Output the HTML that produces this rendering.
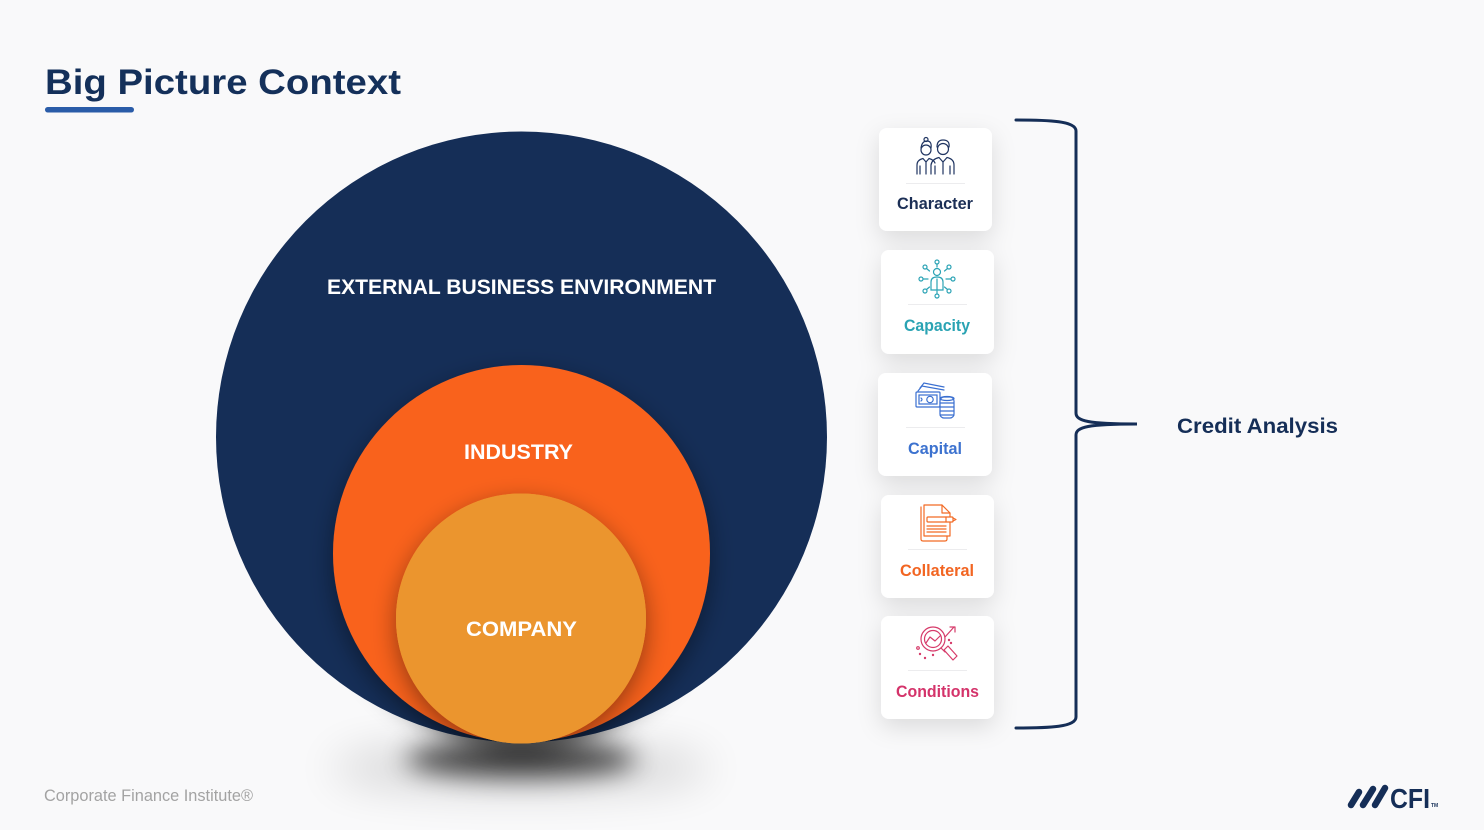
<!DOCTYPE html>
<html><head><meta charset="utf-8">
<style>
html,body{margin:0;padding:0;background:#f9f9fa;}
svg{display:block;}
text{font-family:"Liberation Sans",sans-serif;font-weight:bold;}
</style></head>
<body>
<svg width="1484" height="830" viewBox="0 0 1484 830" xmlns="http://www.w3.org/2000/svg">
<defs>
  <filter id="blurBig" x="-80%" y="-150%" width="260%" height="400%"><feGaussianBlur stdDeviation="13"/></filter>
  <filter id="blurWide" x="-80%" y="-150%" width="260%" height="400%"><feGaussianBlur stdDeviation="22"/></filter>
  <filter id="ds" x="-30%" y="-30%" width="160%" height="170%"><feDropShadow dx="0" dy="8" stdDeviation="12" flood-color="#000" flood-opacity="0.4"/></filter>
  <filter id="cardS" x="-40%" y="-40%" width="180%" height="190%"><feDropShadow dx="0" dy="8" stdDeviation="12" flood-color="#000" flood-opacity="0.12"/></filter>
</defs>
<rect width="1484" height="830" fill="#f9f9fa"/>

<!-- Title -->
<text x="45" y="94" font-size="35" fill="#14305a" textLength="356" lengthAdjust="spacingAndGlyphs">Big Picture Context</text>
<rect x="45" y="107" width="89" height="5.5" rx="2.75" fill="#2a5ca8"/>

<!-- big shadow -->
<ellipse cx="521" cy="768" rx="190" ry="22" fill="#000" opacity="0.16" filter="url(#blurWide)"/>
<ellipse cx="521" cy="759" rx="115" ry="18" fill="#000" opacity="0.72" filter="url(#blurBig)"/>

<!-- circles -->
<circle cx="521.5" cy="437" r="305.5" fill="#152e57"/>
<circle cx="521.5" cy="553.5" r="188.5" fill="#f9621e" filter="url(#ds)"/>
<circle cx="521" cy="618.5" r="125" fill="#eb952e" filter="url(#ds)"/>
<circle cx="521" cy="618.5" r="125" fill="#eb952e"/>

<text x="327" y="294" font-size="21" fill="#fff" textLength="389" lengthAdjust="spacingAndGlyphs">EXTERNAL BUSINESS ENVIRONMENT</text>
<text x="464" y="459" font-size="21" fill="#fff" textLength="109" lengthAdjust="spacingAndGlyphs">INDUSTRY</text>
<text x="466" y="636" font-size="21" fill="#fff" textLength="111" lengthAdjust="spacingAndGlyphs">COMPANY</text>

<!-- cards -->
<g filter="url(#cardS)">
  <rect x="879" y="128" width="113" height="103" rx="8" fill="#fff"/>
  <rect x="881" y="250" width="113" height="104" rx="8" fill="#fff"/>
  <rect x="878" y="373" width="114" height="103" rx="8" fill="#fff"/>
  <rect x="881" y="495" width="113" height="103" rx="8" fill="#fff"/>
  <rect x="881" y="616" width="113" height="103" rx="8" fill="#fff"/>
</g>
<g stroke="#ececee" stroke-width="1">
  <line x1="906" y1="183.5" x2="965" y2="183.5"/>
  <line x1="908" y1="304.5" x2="967" y2="304.5"/>
  <line x1="906" y1="427.5" x2="965" y2="427.5"/>
  <line x1="908" y1="549.5" x2="967" y2="549.5"/>
  <line x1="908" y1="670.5" x2="967" y2="670.5"/>
</g>
<text x="897" y="209" font-size="16.5" fill="#1c2f56" textLength="76" lengthAdjust="spacingAndGlyphs">Character</text>
<text x="904" y="331" font-size="16.5" fill="#2aa3b3" textLength="66" lengthAdjust="spacingAndGlyphs">Capacity</text>
<text x="908" y="454" font-size="16.5" fill="#3c72cf" textLength="54" lengthAdjust="spacingAndGlyphs">Capital</text>
<text x="900" y="576" font-size="16.5" fill="#f26522" textLength="74" lengthAdjust="spacingAndGlyphs">Collateral</text>
<text x="896" y="697" font-size="16.5" fill="#d4336a" textLength="83" lengthAdjust="spacingAndGlyphs">Conditions</text>

<!-- Character icon -->
<g fill="none" stroke="#1f3461" stroke-width="1.2" stroke-linecap="round">
  <circle cx="926" cy="150" r="5"/>
  <path d="M921,148 Q922,141 927,141 Q932,141 931,148"/>
  <circle cx="926" cy="139.5" r="2"/>
  <path d="M917,174 V165 Q917,160 923,158.5 L926,162 L929,158.5 Q934,160 935,163"/>
  <line x1="920" y1="166" x2="920" y2="174"/><line x1="926" y1="162" x2="926" y2="174"/>
  <circle cx="943" cy="149" r="5.5"/>
  <path d="M937,147 Q937,140 943,140 Q950,140 949,147"/>
  <path d="M931,174 V165 Q932,159 939,157.5 L943,162 L947,157.5 Q954,159 954,165 V174"/>
  <line x1="935" y1="166" x2="935" y2="174"/><line x1="943" y1="162" x2="943" y2="174"/><line x1="950" y1="166" x2="950" y2="174"/>
</g>

<!-- Capacity icon -->
<g fill="none" stroke="#2ba3b5" stroke-width="1.2" stroke-linecap="round">
  <circle cx="937" cy="272" r="3.5"/>
  <path d="M931,290 V282 Q931,277 937,277 Q943,277 943,282 V290 Z"/>
  <line x1="937" y1="279" x2="937" y2="290"/>
  <circle cx="937" cy="262" r="2"/><line x1="937" y1="264" x2="937" y2="267"/>
  <circle cx="937" cy="296" r="2"/><line x1="937" y1="291" x2="937" y2="294"/>
  <circle cx="921" cy="279" r="2"/><line x1="923" y1="279" x2="928" y2="279"/>
  <circle cx="953" cy="279" r="2"/><line x1="946" y1="279" x2="951" y2="279"/>
  <circle cx="925" cy="267" r="2"/><line x1="926.5" y1="268.5" x2="929.5" y2="271"/>
  <circle cx="949" cy="267" r="2"/><line x1="947.5" y1="268.5" x2="944.5" y2="271"/>
  <circle cx="925" cy="291" r="2"/><line x1="926.5" y1="289.5" x2="929.5" y2="287"/>
  <circle cx="949" cy="291" r="2"/><line x1="947.5" y1="289.5" x2="944.5" y2="287"/>
</g>

<!-- Capital icon -->
<g fill="none" stroke="#3a6fd0" stroke-width="1.2" stroke-linecap="round">
  <path d="M920,388 L924,383 L944,387"/>
  <path d="M918,391 L922,386 L944,390"/>
  <rect x="916" y="392" width="24" height="15" rx="1"/>
  <rect x="919" y="395" width="18" height="9"/>
  <circle cx="930" cy="399.5" r="3.2"/>
  <path d="M921,398 Q923,399.5 921,401"/>
  <rect x="940" y="397" width="14" height="21" rx="4" fill="#fff"/>
  <ellipse cx="947" cy="398.5" rx="7" ry="2"/>
  <line x1="940" y1="403" x2="954" y2="403"/>
  <line x1="940" y1="407" x2="954" y2="407"/>
  <line x1="940" y1="411" x2="954" y2="411"/>
  <line x1="940" y1="415" x2="954" y2="415"/>
</g>

<!-- Collateral icon -->
<g fill="none" stroke="#f26a25" stroke-width="1.2" stroke-linecap="round" stroke-linejoin="round">
  <path d="M921,507 V539 Q921,541 923,541 H945 Q947,541 947,539 V536"/>
  <path d="M924,505 H942 L950,513 V536 H924 Z" fill="#fff"/>
  <path d="M942,505 V513 H950"/>
  <rect x="927" y="517" width="26" height="5" rx="1" fill="#fff"/>
  <line x1="946" y1="517" x2="946" y2="522"/>
  <path d="M953,518 L956,519.5 L953,521"/>
  <line x1="927" y1="526" x2="946" y2="526"/>
  <line x1="927" y1="529" x2="946" y2="529"/>
  <line x1="927" y1="532" x2="946" y2="532"/>
</g>

<!-- Conditions icon -->
<g fill="none" stroke="#d63b6a" stroke-width="1.2" stroke-linecap="round" stroke-linejoin="round">
  <circle cx="933" cy="639" r="12"/>
  <circle cx="933" cy="639" r="8.5"/>
  <path d="M926,643 L930,637 L935,641 L940,636"/>
  <path d="M941,648 L945,652"/>
  <path d="M944,650 L948,646 L957,656 L953,660 Z"/>
  <path d="M945,637 L954,627"/>
  <path d="M950,627 H955 V632"/>
  <circle cx="949" cy="640" r="0.6" fill="#d63b6a"/>
  <circle cx="951" cy="643" r="0.6" fill="#d63b6a"/>
  <circle cx="920" cy="654" r="0.6" fill="#d63b6a"/>
  <circle cx="925" cy="658" r="0.6" fill="#d63b6a"/>
  <circle cx="933" cy="655" r="0.6" fill="#d63b6a"/>
  <circle cx="918" cy="648" r="1.3"/>
</g>

<!-- Bracket -->
<path d="M1016,120 C1050,120 1076,121 1076,131 L1076,413 C1076,421 1088,424 1137,424 C1088,424 1076,427 1076,435 L1076,717 C1076,727 1050,728 1016,728" fill="none" stroke="#152e57" stroke-width="3" stroke-linecap="round"/>

<text x="1177" y="433" font-size="21" fill="#152e57" textLength="161" lengthAdjust="spacingAndGlyphs">Credit Analysis</text>

<!-- footer -->
<text x="44" y="801" font-size="17" fill="#a3a3a3" style="font-weight:normal" textLength="209" lengthAdjust="spacingAndGlyphs">Corporate Finance Institute®</text>

<!-- CFI logo -->
<g stroke="#152e57" stroke-width="6.5" stroke-linecap="round">
  <line x1="1351" y1="805" x2="1359" y2="792"/>
  <line x1="1363" y1="805" x2="1373" y2="789"/>
  <line x1="1375" y1="805" x2="1385" y2="788"/>
</g>
<text x="1390" y="808" font-size="28" fill="#152e57" textLength="40" lengthAdjust="spacingAndGlyphs">CFI</text>
<text x="1431" y="807" font-size="5" fill="#152e57">TM</text>
</svg>
</body></html>
